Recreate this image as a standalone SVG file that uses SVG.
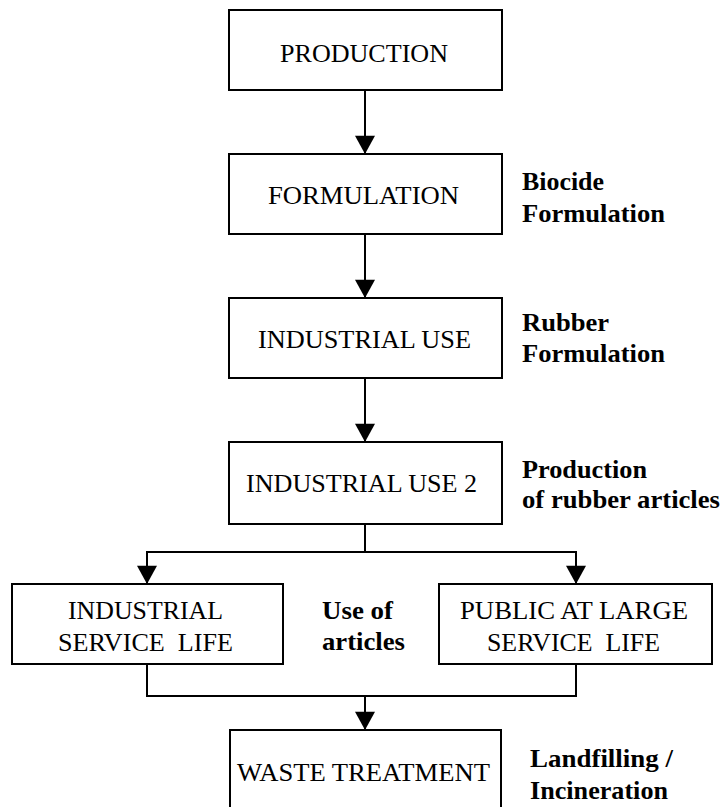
<svg xmlns="http://www.w3.org/2000/svg" width="722" height="807" viewBox="0 0 722 807">
<defs>
<style>
.box{fill:#fff;stroke:#000;stroke-width:2}
.t{font-family:Tinos,'Liberation Serif','Times New Roman','Nimbus Roman','FreeSerif','DejaVu Serif',serif;font-size:26px;fill:#000;text-anchor:middle}
.lb{font-family:Tinos,'Liberation Serif','Times New Roman','Nimbus Roman','FreeSerif','DejaVu Serif',serif;font-size:25px;font-weight:bold;fill:#000}
.c{fill:none;stroke:#000;stroke-width:2}
</style>
<marker id="ah" markerUnits="userSpaceOnUse" markerWidth="22" markerHeight="20" refX="20" refY="11" orient="auto" viewBox="0 0 20 22">
<path d="M0,0 L20,11 L0,22 Z" fill="#000"/>
</marker>
</defs>
<rect width="722" height="807" fill="#fff"/>
<g id="connectors">
<line class="c" x1="365" y1="90" x2="365" y2="154" marker-end="url(#ah)"/>
<line class="c" x1="365" y1="234" x2="365" y2="298" marker-end="url(#ah)"/>
<line class="c" x1="365" y1="378" x2="365" y2="442" marker-end="url(#ah)"/>
<polyline class="c" points="365,524 365,552"/>
<polyline class="c" points="365,552 147,552 147,584" marker-end="url(#ah)"/>
<polyline class="c" points="365,552 576,552 576,584" marker-end="url(#ah)"/>
<polyline class="c" points="147,664 147,696 576,696 576,664"/>
<line class="c" x1="365" y1="696" x2="365" y2="730" marker-end="url(#ah)"/>
</g>
<g id="production">
<rect class="box" x="229" y="10" width="273" height="80"/>
<text class="t" x="364" y="62" textLength="168" lengthAdjust="spacingAndGlyphs">PRODUCTION</text>
</g>
<g id="formulation">
<rect class="box" x="229" y="154" width="273" height="80"/>
<text class="t" x="363.5" y="204" textLength="191" lengthAdjust="spacingAndGlyphs">FORMULATION</text>
</g>
<g id="industrial-use">
<rect class="box" x="229" y="298" width="273" height="80"/>
<text class="t" x="364.5" y="348" textLength="213" lengthAdjust="spacingAndGlyphs">INDUSTRIAL USE</text>
</g>
<g id="industrial-use-2">
<rect class="box" x="229" y="442" width="273" height="82"/>
<text class="t" x="361.5" y="492" textLength="231" lengthAdjust="spacingAndGlyphs">INDUSTRIAL USE 2</text>
</g>
<g id="industrial-service-life">
<rect class="box" x="12" y="584" width="271" height="80"/>
<text class="t" x="145.5" y="619" textLength="155" lengthAdjust="spacingAndGlyphs">INDUSTRIAL</text>
<text class="t" x="145.5" y="651" xml:space="preserve" textLength="175" lengthAdjust="spacingAndGlyphs">SERVICE  LIFE</text>
</g>
<g id="public-service-life">
<rect class="box" x="439" y="584" width="273" height="80"/>
<text class="t" x="574" y="619" textLength="228" lengthAdjust="spacingAndGlyphs">PUBLIC AT LARGE</text>
<text class="t" x="573.5" y="651" xml:space="preserve" textLength="173" lengthAdjust="spacingAndGlyphs">SERVICE  LIFE</text>
</g>
<g id="waste-treatment">
<rect class="box" x="230" y="730" width="271" height="90"/>
<text class="t" x="363.5" y="781" textLength="253" lengthAdjust="spacingAndGlyphs">WASTE TREATMENT</text>
</g>
<g id="labels">
<text class="lb" x="522" y="190" textLength="82" lengthAdjust="spacingAndGlyphs">Biocide</text>
<text class="lb" x="522" y="222" textLength="143" lengthAdjust="spacingAndGlyphs">Formulation</text>
<text class="lb" x="522" y="331" textLength="87" lengthAdjust="spacingAndGlyphs">Rubber</text>
<text class="lb" x="522" y="362" textLength="143" lengthAdjust="spacingAndGlyphs">Formulation</text>
<text class="lb" x="522" y="478" textLength="125" lengthAdjust="spacingAndGlyphs">Production</text>
<text class="lb" x="522" y="508" textLength="198" lengthAdjust="spacingAndGlyphs">of rubber articles</text>
<text class="lb" x="322" y="619" textLength="71" lengthAdjust="spacingAndGlyphs">Use of</text>
<text class="lb" x="322" y="650" textLength="83" lengthAdjust="spacingAndGlyphs">articles</text>
<text class="lb" x="530" y="767" textLength="143" lengthAdjust="spacingAndGlyphs">Landfilling /</text>
<text class="lb" x="530" y="799" textLength="138" lengthAdjust="spacingAndGlyphs">Incineration</text>
</g>
</svg>
